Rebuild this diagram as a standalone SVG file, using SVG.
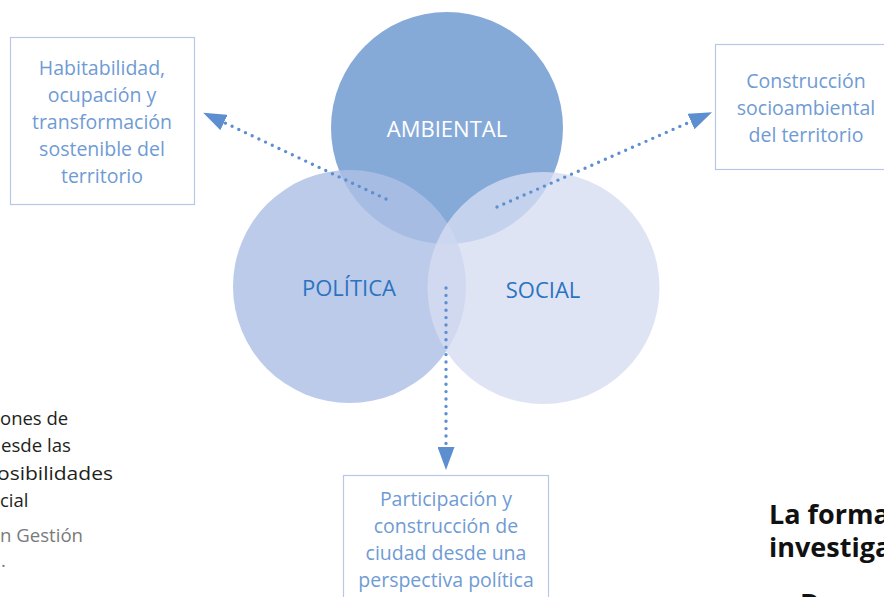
<svg xmlns="http://www.w3.org/2000/svg" width="884" height="597" viewBox="0 0 884 597">
<style>
.box{fill:#fff;stroke:#b6c8ea;stroke-width:1.2}
.bt{font-family:"Open Sans",Lato,sans-serif;font-size:19.5px;fill:#6f9bd4;text-anchor:middle}
.ct{font-family:"Open Sans",Lato,sans-serif;font-size:22px;text-anchor:middle}
.con{fill:none;stroke:#5d8fd0;stroke-width:3.4;stroke-linecap:round;stroke-dasharray:0 7.4}
.side{font-family:"Open Sans",Lato,sans-serif;font-size:18.5px;fill:#231f20}
.gray{fill:#7a7a7a}
.head{font-family:"Open Sans",Lato,sans-serif;font-size:27px;font-weight:bold;fill:#111}
</style>
<defs>
<marker id="ah" markerUnits="userSpaceOnUse" markerWidth="23" markerHeight="17" refX="0" refY="8.5" orient="auto">
<path d="M0,0 L23,8.5 L0,17 z" fill="#5d8fd0"/>
</marker>
</defs>
<rect width="884" height="597" fill="#fff"/>
<g id="ambiental">
<circle cx="447" cy="128" r="116" fill="#86aad8"/>
</g>
<g id="politica">
<circle cx="349.5" cy="286.5" r="116.5" fill="rgb(173,192,229)" fill-opacity="0.82"/>
</g>
<g id="social">
<circle cx="543.5" cy="288" r="116" fill="rgb(215,221,242)" fill-opacity="0.79"/>
</g>
<g id="labels">
<text class="ct" x="447" y="137" fill="#fff">AMBIENTAL</text>
<text class="ct" x="349" y="296" fill="#2a73c0">POLÍTICA</text>
<text class="ct" x="543" y="298" fill="#2a73c0">SOCIAL</text>
</g>
<g id="box-habitabilidad">
<rect class="box" x="10.5" y="37.5" width="184" height="167"/>
<text class="bt" x="102" y="75">Habitabilidad,</text>
<text class="bt" x="102" y="102">ocupación y</text>
<text class="bt" x="102" y="129">transformación</text>
<text class="bt" x="102" y="156">sostenible del</text>
<text class="bt" x="102" y="183">territorio</text>
</g>
<g id="box-construccion">
<rect class="box" x="715.5" y="44.5" width="180" height="125"/>
<text class="bt" x="806" y="88">Construcción</text>
<text class="bt" x="806" y="115">socioambiental</text>
<text class="bt" x="806" y="142">del territorio</text>
</g>
<g id="box-participacion">
<rect class="box" x="343.5" y="475.5" width="205" height="130"/>
<text class="bt" x="446" y="506">Participación y</text>
<text class="bt" x="446" y="533">construcción de</text>
<text class="bt" x="446" y="560">ciudad desde una</text>
<text class="bt" x="446" y="587">perspectiva política</text>
</g>
<g id="connectors">
<path class="con" d="M386,199 L224,122.5" marker-end="url(#ah)"/>
<path class="con" d="M497,207 L691,121.5" marker-end="url(#ah)"/>
<path class="con" d="M446,288 L446,447" marker-end="url(#ah)"/>
</g>
<g id="side-text">
<text class="side" x="0" y="425">ones de</text>
<text class="side" x="1" y="452" textLength="70" lengthAdjust="spacingAndGlyphs">esde las</text>
<text class="side" x="-3" y="480" textLength="116" lengthAdjust="spacingAndGlyphs">osibilidades</text>
<text class="side" x="0" y="507">cial</text>
<text class="side gray" x="0" y="542" textLength="83" lengthAdjust="spacingAndGlyphs">n Gestión</text>
<text class="side gray" x="1" y="567">.</text>
<text class="head" x="769" y="524">La forma</text>
<text class="head" x="769" y="557">investiga</text>
<text class="head" x="800" y="613" font-weight="normal">D</text>
</g>
</svg>
